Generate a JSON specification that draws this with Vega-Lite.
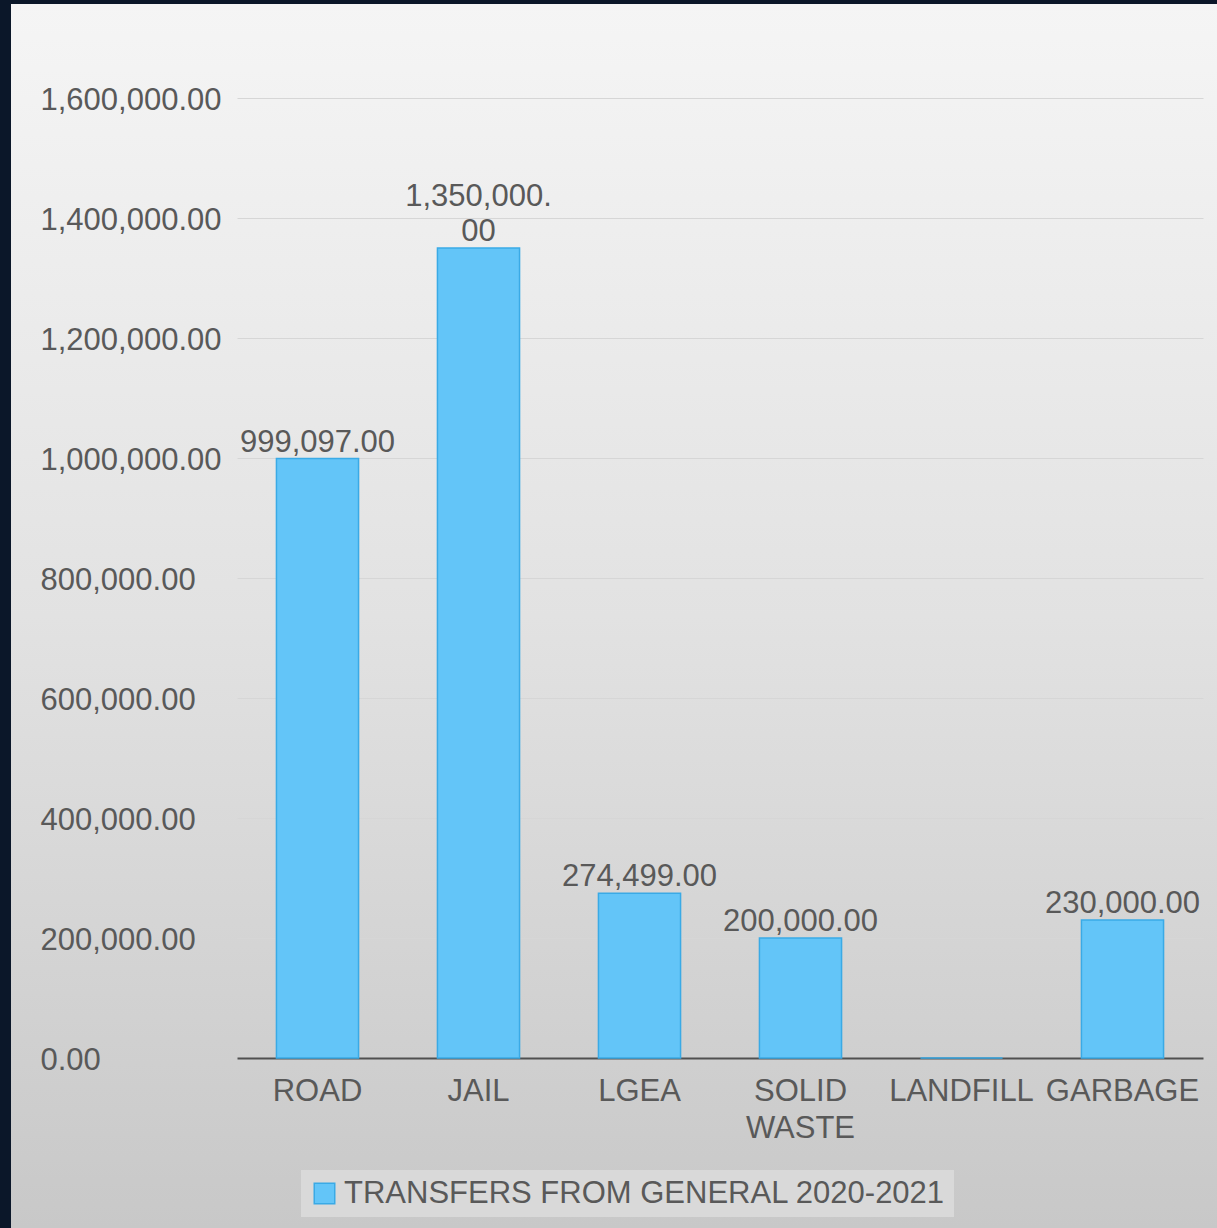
{
  "$schema": "https://vega.github.io/schema/vega-lite/v6.json",
  "width": 1206,
  "height": 1224,
  "autosize": {"type": "none"},
  "padding": {"left": 11, "top": 4, "right": 0, "bottom": 0},
  "background": "#0b1729",
  "config": {
    "view": {
      "stroke": null,
      "fill": {
        "gradient": "linear",
        "x1": 0, "y1": 0, "x2": 0, "y2": 1,
        "stops": [
          {"offset": 0, "color": "#f5f5f5"},
          {"offset": 0.5, "color": "#e2e2e2"},
          {"offset": 1, "color": "#c8c8c8"}
        ]
      }
    },
    "font": "Liberation Sans"
  },
  "data": {
    "values": [
      {"category": "ROAD", "value": 999097, "label": "999,097.00"},
      {"category": "JAIL", "value": 1350000, "label": "1,350,000.\n00"},
      {"category": "LGEA", "value": 274499, "label": "274,499.00"},
      {"category": "SOLID WASTE", "value": 200000, "label": "200,000.00"},
      {"category": "LANDFILL", "value": 0, "label": ""},
      {"category": "GARBAGE", "value": 230000, "label": "230,000.00"}
    ]
  },
  "encoding": {
    "x": {
      "field": "category",
      "type": "nominal",
      "sort": null,
      "scale": {"range": [226, 1192], "paddingInner": 0.49, "paddingOuter": 0.245},
      "axis": {
        "title": null,
        "offset": -170,
        "labelAngle": 0,
        "labelFontSize": 31,
        "labelColor": "#595959",
        "labelFont": "Liberation Sans",
        "labelPadding": 18,
        "labelBaseline": "top",
        "labelLineHeight": 37,
        "labelExpr": "split(datum.label, ' ')",
        "ticks": false,
        "tickSize": 0,
        "domainColor": "#505050",
        "domainWidth": 2,
        "grid": false,
        "zindex": 0,
        "labelLimit": 400
      }
    },
    "y": {
      "field": "value",
      "type": "quantitative",
      "scale": {"domain": [0, 1600000], "range": [1054, 94], "nice": false},
      "axis": {
        "title": null,
        "offset": -226,
        "values": [0, 200000, 400000, 600000, 800000, 1000000, 1200000, 1400000, 1600000],
        "format": ",.2f",
        "labelFontSize": 31,
        "labelColor": "#595959",
        "labelFont": "Liberation Sans",
        "labelAlign": "left",
        "labelPadding": 197,
        "labelOffset": 2,
        "labelLimit": 400,
        "ticks": false,
        "tickSize": 0,
        "domain": false,
        "grid": true,
        "gridColor": "#d6d6d6",
        "gridWidth": 1,
        "zindex": 0
      }
    }
  },
  "layer": [
    {
      "mark": {"type": "bar", "stroke": "#3aaae6", "strokeWidth": 1.5},
      "encoding": {
        "color": {
          "datum": "TRANSFERS FROM GENERAL 2020-2021",
          "scale": {"range": ["#63c5f8"]},
          "legend": {
            "title": null,
            "orient": "none",
            "legendX": 290,
            "legendY": 1166,
            "padding": 8,
            "fillColor": "#d9d9d9",
            "symbolType": "square",
            "symbolSize": 420,
            "symbolStrokeColor": "#3aaae6",
            "symbolStrokeWidth": 1.5,
            "symbolFillColor": "#63c5f8",
            "labelFontSize": 31,
            "labelColor": "#595959",
            "labelFont": "Liberation Sans",
            "labelOffset": 4,
            "labelLimit": 800
          }
        }
      }
    },
    {
      "transform": [{"filter": "indexof(datum.label, '\\n') < 0"}],
      "mark": {
        "type": "text",
        "baseline": "bottom",
        "dy": 0,
        "fontSize": 31,
        "color": "#595959",
        "font": "Liberation Sans"
      },
      "encoding": {
        "text": {"field": "label"}
      }
    },
    {
      "transform": [{"filter": "indexof(datum.label, '\\n') >= 0"}],
      "mark": {
        "type": "text",
        "baseline": "bottom",
        "dy": -35,
        "fontSize": 31,
        "color": "#595959",
        "font": "Liberation Sans",
        "lineBreak": "\n",
        "lineHeight": 35
      },
      "encoding": {
        "text": {"field": "label"}
      }
    }
  ]
}
